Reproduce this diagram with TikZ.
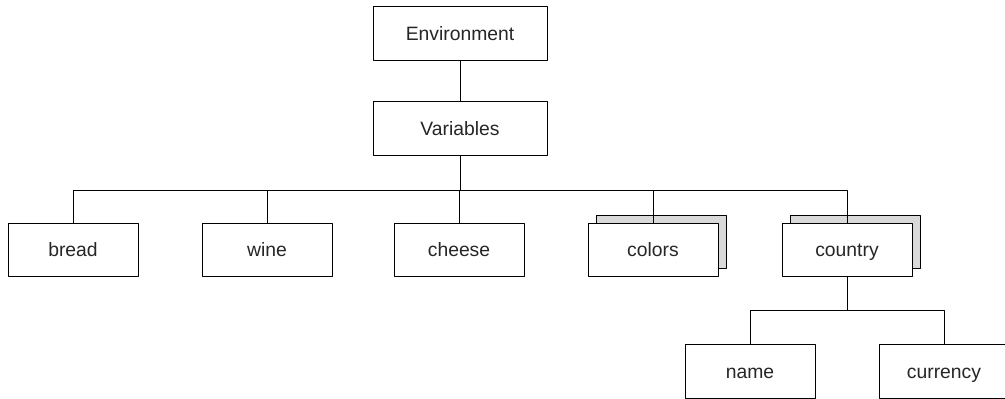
\documentclass[tikz,border=0pt]{standalone}
\usepackage{fontspec}
\setmainfont{Liberation Sans}
\usetikzlibrary{shadows}
\tikzset{
	box/.style={draw, fill=white, text=black!85, minimum width=2.6cm, minimum height=1.07cm, inner sep=0pt, text height=1.6ex, text depth=.2ex, line width=.55pt},
	wide/.style={box, minimum width=3.48cm},
	stack/.style={box, copy shadow={shadow xshift=.16cm, shadow yshift=.16cm, fill=black!15, draw=black, line width=.55pt}},
	link/.style={line width=.55pt}
}
\begin{document}
\begin{tikzpicture}[font=\fontsize{11}{13}\selectfont, line join=round]
	\useasboundingbox (0,0) rectangle (20.1,-7.96);
	\def\ya{-5.0} \def\yb{-7.43} % Hang nut
	\node[wide] (env) at (9.2,-.67) {Environment};
	\node[wide] (var) at (9.2,-2.57) {Variables};
	\node[box] (bread) at (1.46,\ya) {bread};
	\node[box] (wine) at (5.34,\ya) {wine};
	\node[box] (cheese) at (9.18,\ya) {cheese};
	\node[stack] (colors) at (13.06,\ya) {colors};
	\node[stack] (country) at (16.94,\ya) {country};
	\node[box] (name) at (15.0,\yb) {name};
	\node[box] (currency) at (18.88,\yb) {currency};
	\coordinate (bus) at (9.2,-3.8);
	\coordinate (sub) at (16.94,-6.2);
	\draw[link] (env) -- (var) (var) -- (bus);
	\foreach \n in {bread,wine,cheese,colors,country}
		\draw[link] (bus) -| (\n.north);
	\draw[link] (country) -- (sub);
	\foreach \n in {name,currency}
		\draw[link] (sub) -| (\n.north);
\end{tikzpicture}
\end{document}
